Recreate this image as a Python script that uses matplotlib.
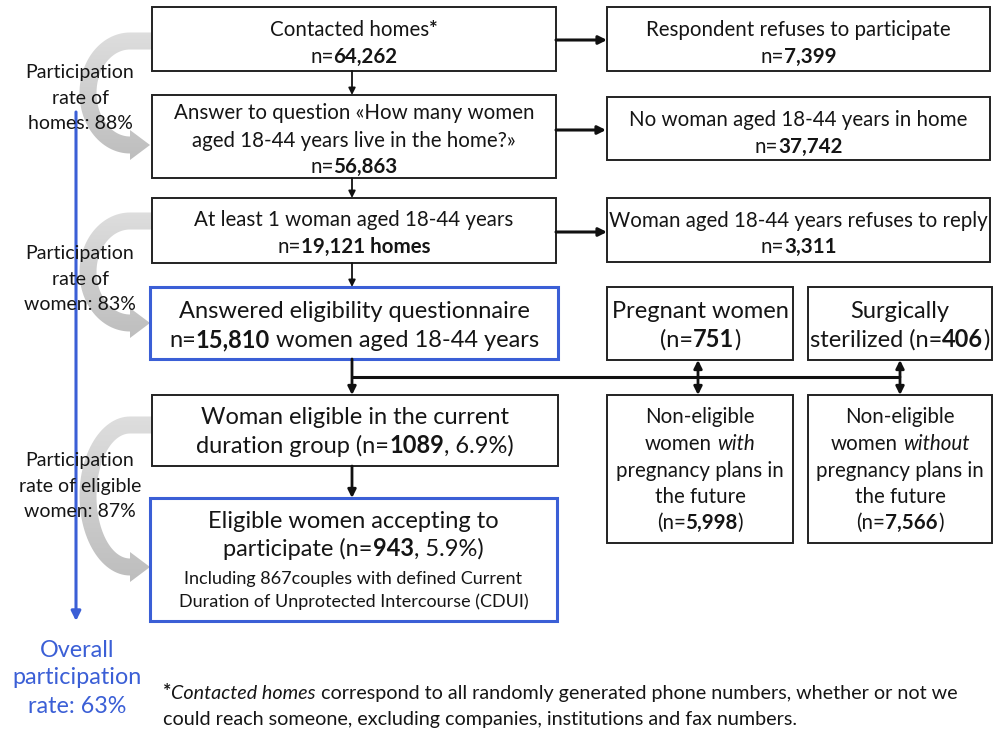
import matplotlib
matplotlib.use("Agg")
import matplotlib.pyplot as plt
import numpy as np
from matplotlib.font_manager import FontProperties
from matplotlib.patches import Rectangle, Polygon
from matplotlib.colors import LinearSegmentedColormap

W, H = 993, 730
FONT = "Lato"
BLUE = "#3b5fd6"
INK = "#151515"

# ---- texts / counts of the flow chart ("b" = bold, "i" = italic) ----
box_contacted = [[("Contacted homes", ""), ("*", "b")], [("n=", ""), ("64,262", "b")]]
box_answer = [[("Answer to question «How many women", "")],
              [("aged 18-44 years live in the home?»", "")],
              [("n=", ""), ("56,863", "b")]]
box_atleast = [[("At least 1 woman aged 18-44 years", "")],
               [("n=", ""), ("19,121 homes", "b")]]
box_refuse = [[("Respondent refuses to participate", "")], [("n=", ""), ("7,399", "b")]]
box_nowoman = [[("No woman aged 18-44 years in home", "")], [("n=", ""), ("37,742", "b")]]
box_wrefuse = [[("Woman aged 18-44 years refuses to reply", "")], [("n=", ""), ("3,311", "b")]]
box_eligq = [[("Answered eligibility questionnaire", "")],
             [("n=", ""), ("15,810", "b"), (" women aged 18-44 years", "")]]
box_pregnant = [[("Pregnant women", "")], [("(n=", ""), ("751", "b"), (")", "")]]
box_steril = [[("Surgically", "")], [("sterilized (n=", ""), ("406", "b"), (")", "")]]
box_eligible = [[("Woman eligible in the current", "")],
                [("duration group (n=", ""), ("1089", "b"), (", 6.9%)", "")]]
box_with = [[("Non-eligible", "")], [("women ", ""), ("with", "i")],
            [("pregnancy plans in", "")], [("the future", "")],
            [("(n=", ""), ("5,998", "b"), (")", "")]]
box_without = [[("Non-eligible", "")], [("women ", ""), ("without", "i")],
               [("pregnancy plans in", "")], [("the future", "")],
               [("(n=", ""), ("7,566", "b"), (")", "")]]
box_accept = [[("Eligible women accepting to", "")],
              [("participate (n=", ""), ("943", "b"), (", 5.9%)", "")],
              [("Including 867couples with defined Current", "")],
              [("Duration of Unprotected Intercourse (CDUI)", "")]]
rate_labels = [["Participation", "rate of", "homes: 88%"],
               ["Participation", "rate of", "women: 83%"],
               ["Participation", "rate of eligible", "women: 87%"]]
overall_label = ["Overall", "participation", "rate: 63%"]
footnote = [[("*", "b"), ("Contacted homes", "i"),
             (" correspond to all randomly generated phone numbers, whether or not we", "")],
            [("could reach someone, excluding companies, institutions and fax numbers.", "")]]

fig = plt.figure(figsize=(W / 100, H / 100), dpi=100)
ax = fig.add_axes([0, 0, 1, 1])
ax.set_xlim(0, W)
ax.set_ylim(H, 0)
ax.axis("off")
r = fig.canvas.get_renderer()


def tw(s, fp):
    return r.get_text_width_height_descent(s, fp, ismath=False)[0]


def rich_line(x, y, parts, size, color=INK, align="center"):
    items = []
    total = 0.0
    for txt, st in parts:
        fp = FontProperties(family=FONT, size=size,
                            weight="bold" if "b" in st else "normal",
                            style="italic" if "i" in st else "normal")
        sw = tw("a a", fp) - tw("aa", fp)
        core = txt.strip(" ")
        lead = len(txt) - len(txt.lstrip(" "))
        trail = len(txt) - len(txt.rstrip(" "))
        w = tw(core, fp) if core else 0
        items.append((core, fp, total + lead * sw))
        total += lead * sw + w + trail * sw
    x0 = x - total / 2 if align == "center" else x
    for core, fp, off in items:
        ax.text(x0 + off, y, core, fontproperties=fp, color=color,
                ha="left", va="baseline", zorder=5)


def box(x0, y0, x1, y1, lines, baselines, sizes, edge="#222222", lw=1.4):
    ax.add_patch(Rectangle((x0, y0), x1 - x0, y1 - y0, facecolor="white",
                           edgecolor=edge, lw=lw, zorder=3))
    if not isinstance(sizes, list):
        sizes = [sizes] * len(lines)
    for ln, yb, sz in zip(lines, baselines, sizes):
        rich_line((x0 + x1) / 2, yb, ln, sz)


def arrow(x1, y1, x2, y2, lw=1.6, style="-|>", ms=12, color="#111111"):
    ax.annotate("", xy=(x2, y2), xytext=(x1, y1),
                arrowprops=dict(arrowstyle=style, color=color, lw=lw,
                                mutation_scale=ms, shrinkA=0, shrinkB=0),
                zorder=4)


gray_cmap = LinearSegmentedColormap.from_list("g", ["#dedede", "#bcbcbc"])


def curved_arrow(x_end, y_top, y_tip, a=42, w=17, hl=20, hw=15):
    cx = x_end - hl
    b = (y_tip - y_top) / 2
    cy = y_top + b
    ao, bo = a + w / 2, b + w / 2
    ai, bi = a - w / 2, b - w / 2
    t = np.linspace(np.pi / 2, 3 * np.pi / 2, 60)
    outer = np.column_stack([cx + ao * np.cos(t), cy - bo * np.sin(t)])
    inner = np.column_stack([cx + ai * np.cos(t[::-1]), cy - bi * np.sin(t[::-1])])
    pts = [(x_end + 8, cy - bo)] + outer.tolist() + [
        (cx, cy + b + hw), (x_end, cy + b), (cx, cy + b - hw)] + inner.tolist() + [
        (x_end + 8, cy - bi)]
    poly = Polygon(pts, closed=True, facecolor="none", edgecolor="none")
    ax.add_patch(poly)
    grad = np.linspace(0, 1, 100).reshape(-1, 1)
    im = ax.imshow(grad, cmap=gray_cmap, aspect="auto", origin="upper",
                   extent=(cx - ao - 2, x_end + 10, cy + bo + hw, cy - bo - 2), zorder=1)
    im.set_clip_path(poly)


# gray curved arrows on the left
curved_arrow(150, 41, 145)
curved_arrow(150, 221, 323)
curved_arrow(150, 425, 567)
ax.set_xlim(0, W)
ax.set_ylim(H, 0)

# overall blue arrow
arrow(76, 112, 76, 621, lw=2.2, ms=14, color=BLUE)

BASE = 14.8
BIG = 17
SMALL = 13

# left column
box(152, 7, 556, 71, box_contacted, [36, 63], BASE)
box(152, 95, 556, 178, box_answer, [119, 147, 173], BASE)
box(152, 198, 556, 263, box_atleast, [226, 253], BASE)
box(150, 287, 558, 359, box_eligq, [318, 347], BIG, edge=BLUE, lw=2.2)
box(152, 395, 558, 466, box_eligible, [424, 453], BIG)
box(150, 498, 557, 621, box_accept, [528, 556, 584, 607],
    [BIG, BIG, SMALL, SMALL], edge=BLUE, lw=2.2)

# right column
box(607, 7, 990, 71, box_refuse, [36, 63], BASE)
box(607, 97, 990, 160, box_nowoman, [126, 153], BASE)
box(607, 198, 990, 262, box_wrefuse, [227, 253], BASE)
box(607, 287, 793, 360, box_pregnant, [318, 347], BIG)
box(808, 287, 992, 360, box_steril, [318, 347], BIG)
box(607, 395, 793, 543, box_with, [423, 450, 477, 503, 529], BASE)
box(808, 395, 992, 543, box_without, [423, 450, 477, 503, 529], BASE)

# flow arrows
arrow(556, 40, 607, 40, lw=2.2)
arrow(556, 130, 606, 130, lw=2.2)
arrow(556, 232, 607, 232, lw=2.2)
arrow(352, 71, 352, 95, lw=1.3, ms=10)
arrow(352, 178, 352, 198, lw=1.3, ms=10)
arrow(352, 263, 352, 287, lw=1.3, ms=10)
arrow(352, 359, 352, 395, lw=2.0)
arrow(352, 466, 352, 498, lw=2.0)
ax.plot([352, 900], [377, 377], color="#111111", lw=2.2, zorder=4,
        solid_capstyle="butt")
arrow(698, 377, 698, 360, lw=2.0)
arrow(698, 377, 698, 395, lw=2.0)
arrow(900, 377, 900, 360, lw=2.0)
arrow(900, 377, 900, 395, lw=2.0)

# left labels
label_y = [[78, 104, 129], [259, 285, 310], [466, 492, 517]]
for lines, ys in zip(rate_labels, label_y):
    for s, y in zip(lines, ys):
        rich_line(80, y, [(s, "")], 14)
for s, y in zip(overall_label, [657, 684, 713]):
    rich_line(77, y, [(s, "")], 16.8, color=BLUE)

# footnote
for ln, y in zip(footnote, [699, 725]):
    rich_line(163, y, ln, 14.2, align="left")

fig.savefig("out.png", dpi=100)
